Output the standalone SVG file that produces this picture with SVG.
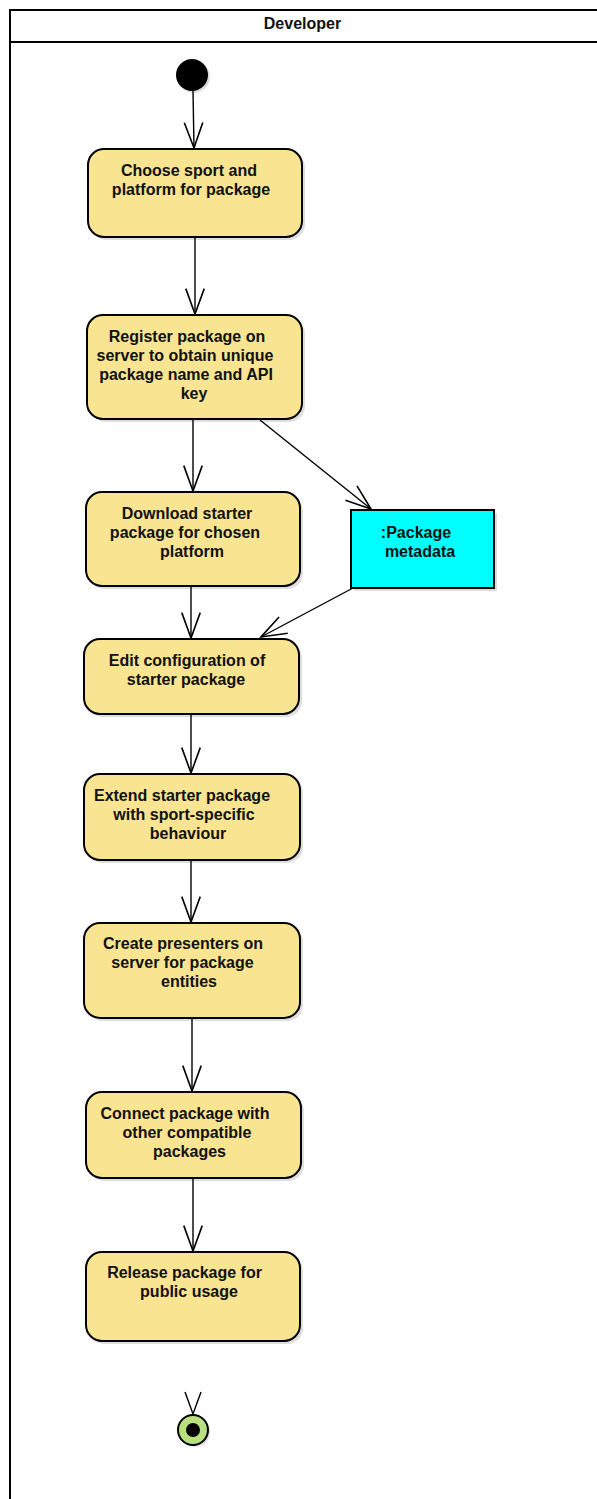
<svg xmlns="http://www.w3.org/2000/svg" width="597" height="1499" viewBox="0 0 597 1499">
<defs>
<marker id="arr" markerUnits="userSpaceOnUse" markerWidth="30" markerHeight="30" viewBox="-24 -10 26 20" refX="0" refY="0" orient="auto">
<path d="M-22,-8 L0,0 L-22,8" fill="none" stroke="#000" stroke-width="1.4"/>
</marker>
</defs>
<style>
.shadow{fill:#d6d6d6;opacity:0.8}
.act{fill:#f8e491;stroke:#000;stroke-width:2}
.obj{fill:#00ffff;stroke:#000;stroke-width:2}
.t{font-family:"Liberation Sans",Arial,sans-serif;font-size:16px;font-weight:bold;fill:#111;text-anchor:middle}
.c{fill:none;stroke:#000;stroke-width:1.4}
</style>
<rect width="597" height="1499" fill="#fff"/>
<g id="lane">
<path d="M10,1499 L10,10 L600,10" fill="none" stroke="#000" stroke-width="2"/>
<line x1="10" y1="42" x2="600" y2="42" stroke="#000" stroke-width="2"/>
<text class="t" x="302.5" y="29">Developer</text>
</g>
<g id="start">
<circle cx="194" cy="77" r="16" class="shadow"/>
<circle cx="192" cy="75" r="16" fill="#000"/>
</g>
<g id="n1">
<rect x="91" y="152" width="214" height="88" rx="16" class="shadow"/>
<rect x="88" y="149" width="214" height="88" rx="16" class="act"/>
<text class="t" x="189" y="176">Choose sport and</text>
<text class="t" x="191" y="195">platform for package</text>
</g>
<g id="n2">
<rect x="90" y="318" width="215" height="104" rx="16" class="shadow"/>
<rect x="87" y="315" width="215" height="104" rx="16" class="act"/>
<text class="t" x="187" y="342">Register package on</text>
<text class="t" x="185" y="361">server to obtain unique</text>
<text class="t" x="186" y="380">package name and API</text>
<text class="t" x="194" y="399">key</text>
</g>
<g id="n3">
<rect x="89" y="495" width="214" height="94" rx="16" class="shadow"/>
<rect x="86" y="492" width="214" height="94" rx="16" class="act"/>
<text class="t" x="187" y="519">Download starter</text>
<text class="t" x="185" y="538">package for chosen</text>
<text class="t" x="192" y="557">platform</text>
</g>
<g id="meta">
<rect x="354" y="513" width="143" height="78" class="shadow"/>
<rect x="351" y="510" width="143" height="78" class="obj"/>
<text class="t" x="416" y="538">:Package</text>
<text class="t" x="420" y="557">metadata</text>
</g>
<g id="n5">
<rect x="87" y="642" width="215" height="75" rx="16" class="shadow"/>
<rect x="84" y="639" width="215" height="75" rx="16" class="act"/>
<text class="t" x="187" y="666">Edit configuration of</text>
<text class="t" x="186" y="685">starter package</text>
</g>
<g id="n6">
<rect x="87" y="777" width="216" height="86" rx="16" class="shadow"/>
<rect x="84" y="774" width="216" height="86" rx="16" class="act"/>
<text class="t" x="182" y="801">Extend starter package</text>
<text class="t" x="184" y="820">with sport-specific</text>
<text class="t" x="188" y="839">behaviour</text>
</g>
<g id="n7">
<rect x="87" y="926" width="216" height="95" rx="16" class="shadow"/>
<rect x="84" y="923" width="216" height="95" rx="16" class="act"/>
<text class="t" x="183" y="949">Create presenters on</text>
<text class="t" x="182.5" y="968">server for package</text>
<text class="t" x="189" y="987">entities</text>
</g>
<g id="n8">
<rect x="89" y="1095" width="215" height="86" rx="16" class="shadow"/>
<rect x="86" y="1092" width="215" height="86" rx="16" class="act"/>
<text class="t" x="185" y="1119">Connect package with</text>
<text class="t" x="187" y="1138">other compatible</text>
<text class="t" x="189.5" y="1157">packages</text>
</g>
<g id="n9">
<rect x="89" y="1255" width="214" height="89" rx="16" class="shadow"/>
<rect x="86" y="1252" width="214" height="89" rx="16" class="act"/>
<text class="t" x="184.5" y="1278">Release package for</text>
<text class="t" x="189" y="1297">public usage</text>
</g>
<g id="end">
<circle cx="195" cy="1432" r="15" class="shadow"/>
<circle cx="193" cy="1430" r="15" fill="#b9e07e" stroke="#000" stroke-width="2"/>
<circle cx="193" cy="1430" r="7" fill="#000"/>
</g>
<g id="connectors">
<path class="c" d="M193,91 L194,148" marker-end="url(#arr)"/>
<path class="c" d="M195,237 L195,314" marker-end="url(#arr)"/>
<path class="c" d="M193,419 L193,491" marker-end="url(#arr)"/>
<path class="c" d="M260,420 L371,509" marker-end="url(#arr)"/>
<path class="c" d="M191,586 L191,638" marker-end="url(#arr)"/>
<path class="c" d="M353,588 L261,637" marker-end="url(#arr)"/>
<path class="c" d="M191,714 L191,773" marker-end="url(#arr)"/>
<path class="c" d="M191,860 L191,922" marker-end="url(#arr)"/>
<path class="c" d="M192,1018 L192,1091" marker-end="url(#arr)"/>
<path class="c" d="M193,1178 L193,1251" marker-end="url(#arr)"/>
<path class="c" d="M185,1392 L193,1414 L201,1392"/>
</g>
</svg>
